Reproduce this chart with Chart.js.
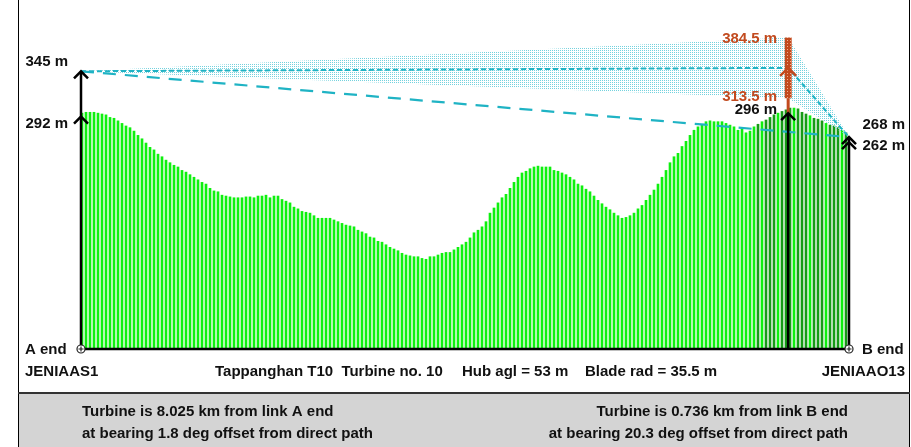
<!DOCTYPE html>
<html>
<head>
<meta charset="utf-8">
<script src="https://cdn.jsdelivr.net/npm/chart.js@4.4.1/dist/chart.umd.min.js"></script>
<style>
  html, body { margin: 0; padding: 0; background: #ffffff; }
  #wrap { position: relative; width: 911px; height: 447px; }
  canvas { display: block; }
</style>
</head>
<body>
<div id="wrap"><canvas id="profile" width="911" height="447"></canvas></div>
<script>
// Ground heights (m above sea level) sampled along the link, A end -> B end
const terrainHeights = [
  296, 297, 297, 297, 296, 295, 294, 291, 290, 287,
  284, 281, 279, 275, 270, 266, 261, 256, 253, 248,
  245, 241, 238, 235, 233, 229, 227, 224, 221, 218,
  215, 213, 208, 205, 204, 200, 199, 198, 197, 197,
  197, 198, 198, 197, 199, 199, 200, 197, 199, 199,
  195, 193, 191, 186, 184, 181, 180, 179, 176, 173,
  173, 173, 173, 171, 169, 167, 165, 164, 163, 159,
  157, 155, 151, 150, 146, 145, 142, 139, 137, 135,
  132, 130, 129, 128, 128, 126, 125, 128, 128, 130,
  132, 133, 133, 136, 139, 142, 145, 150, 156, 159,
  163, 169, 179, 185, 191, 197, 201, 208, 215, 221,
  226, 228, 231, 233, 234, 233, 233, 233, 229, 228,
  226, 224, 221, 218, 213, 211, 207, 204, 199, 194,
  190, 186, 183, 179, 176, 173, 174, 176, 179, 184,
  188, 194, 200, 206, 213, 221, 229, 238, 245, 249,
  257, 263, 270, 276, 280, 282, 286, 287, 286, 286,
  286, 284, 282, 280, 276, 279, 273, 275, 280, 283,
  286, 288, 291, 294, 296, 298, 300, 302, 302, 301,
  297, 295, 293, 290, 289, 287, 284, 282, 281, 279,
  276, 273
];
const sampleLabels = terrainHeights.map((_, i) => String(i));

// Link geometry: distance along the path (km) of A end, turbine, B end
const pathKm = [0, 8.021, 8.711];
// A end: ground height, antenna height (m)
const aEndLevels = [292, 345];
// B end: ground height, antenna height (m)
const bEndLevels = [262, 268];
// Turbine: ground, lower blade tip, hub, upper blade tip (m)
const turbineLevels = [296, 313.5, 349, 384.5];

const linkInfo = ['JENIAAS1', 'JENIAAO13'];
const turbineTitle = ['Tappanghan T10  Turbine no. 10', 'Hub agl = 53 m', 'Blade rad = 35.5 m'];
const footerLeft = ['Turbine is 8.025 km from link A end', 'at bearing 1.8 deg offset from direct path'];
const footerRight = ['Turbine is 0.736 km from link B end', 'at bearing 20.3 deg offset from direct path'];

const CYAN = '#1fb3c4';
const BROWN = '#c24a1e';
const FONT = 'bold 15px "Liberation Sans", Arial, sans-serif';

function dotPattern(color, size) {
  const c = document.createElement('canvas');
  c.width = size; c.height = size;
  const g = c.getContext('2d');
  g.fillStyle = color;
  g.fillRect(0, 0, 1, 1);
  return g.createPattern(c, 'repeat');
}
function hatchPattern() {
  const c = document.createElement('canvas');
  c.width = 3; c.height = 3;
  const g = c.getContext('2d');
  g.fillStyle = BROWN;
  g.fillRect(0, 0, 3, 3);
  g.fillStyle = '#f0b090';
  g.fillRect(1, 1, 1, 1);
  return g.createPattern(c, 'repeat');
}

const barColors = terrainHeights.map((_, i) => (i >= 169 && i % 4 !== 2) ? '#169c16' : '#0ef00e');

const sweptTop = [
  { x: pathKm[0], y: aEndLevels[1] },
  { x: pathKm[1], y: turbineLevels[3] },
  { x: pathKm[2], y: bEndLevels[1] }
];
const sweptBottom = [
  { x: pathKm[0], y: aEndLevels[1] },
  { x: pathKm[1], y: turbineLevels[1] },
  { x: pathKm[2], y: bEndLevels[1] }
];
const hubPath = [
  { x: pathKm[0], y: aEndLevels[1] },
  { x: pathKm[1], y: turbineLevels[2] },
  { x: pathKm[2], y: bEndLevels[1] }
];
const directPath = [
  { x: pathKm[0], y: aEndLevels[1] },
  { x: pathKm[2], y: bEndLevels[1] }
];

function chevron(ctx, x, y, color, hw, h) {
  ctx.save();
  ctx.strokeStyle = color;
  ctx.lineWidth = 2.5;
  ctx.lineJoin = 'miter';
  ctx.beginPath();
  ctx.moveTo(x - hw, y + h);
  ctx.lineTo(x, y);
  ctx.lineTo(x + hw, y + h);
  ctx.stroke();
  ctx.restore();
}
function endMarker(ctx, x, y) {
  ctx.save();
  ctx.fillStyle = '#ffffff';
  ctx.strokeStyle = '#222';
  ctx.lineWidth = 1.2;
  ctx.beginPath();
  ctx.arc(x, y, 4, 0, Math.PI * 2);
  ctx.fill();
  ctx.stroke();
  ctx.beginPath();
  ctx.moveTo(x - 2.5, y); ctx.lineTo(x + 2.5, y);
  ctx.moveTo(x, y - 2.5); ctx.lineTo(x, y + 2.5);
  ctx.stroke();
  ctx.restore();
}

const framePlugin = {
  id: 'frame',
  beforeDraw(chart) {
    const ctx = chart.ctx;
    ctx.save();
    ctx.fillStyle = '#ffffff';
    ctx.fillRect(0, 0, chart.width, chart.height);
    ctx.fillStyle = '#d4d4d4';
    ctx.fillRect(19, 393, 890, 54);
    ctx.restore();
  },
  afterDatasetsDraw(chart) {
    const ctx = chart.ctx;
    const xs = chart.scales.xd, ys = chart.scales.y;
    const area = chart.chartArea;
    const base = area.bottom;
    const xa = xs.getPixelForValue(pathKm[0]);
    const xt = xs.getPixelForValue(pathKm[1]);
    const xb = xs.getPixelForValue(pathKm[2]);

    // turbine: mast to blade tips
    ctx.save();
    ctx.fillStyle = BROWN;
    ctx.fillRect(xt - 1.5, ys.getPixelForValue(turbineLevels[1]), 3,
      ys.getPixelForValue(turbineLevels[0]) - ys.getPixelForValue(turbineLevels[1]));
    ctx.fillStyle = hatchPattern();
    const yTop = ys.getPixelForValue(turbineLevels[3]);
    ctx.fillRect(xt - 3.5, yTop, 7, ys.getPixelForValue(turbineLevels[1]) - yTop);
    ctx.restore();
    chevron(ctx, xt, ys.getPixelForValue(turbineLevels[2]), BROWN, 8, 8);

    // vertical markers: A end, turbine ground, B end
    ctx.save();
    ctx.strokeStyle = '#000';
    ctx.lineWidth = 2.5;
    ctx.beginPath();
    ctx.moveTo(xa, base); ctx.lineTo(xa, ys.getPixelForValue(aEndLevels[1]));
    ctx.moveTo(xt, base); ctx.lineTo(xt, ys.getPixelForValue(turbineLevels[0]));
    ctx.moveTo(xb, base); ctx.lineTo(xb, ys.getPixelForValue(bEndLevels[1]));
    ctx.stroke();
    // baseline
    ctx.beginPath();
    ctx.moveTo(xa, base); ctx.lineTo(xb, base);
    ctx.stroke();
    ctx.restore();
    chevron(ctx, xa, ys.getPixelForValue(aEndLevels[0]), '#000', 7, 7);
    chevron(ctx, xa, ys.getPixelForValue(aEndLevels[1]), '#000', 7, 7);
    chevron(ctx, xt, ys.getPixelForValue(turbineLevels[0]), '#000', 7, 7);
    chevron(ctx, xb, ys.getPixelForValue(bEndLevels[0]), '#000', 7, 7);
    chevron(ctx, xb, ys.getPixelForValue(bEndLevels[1]), '#000', 7, 7);
    endMarker(ctx, xa, base);
    endMarker(ctx, xb, base);
  },
  afterDraw(chart) {
    const ctx = chart.ctx;
    const ys = chart.scales.y;
    const xs = chart.scales.xd;
    const xt = xs.getPixelForValue(pathKm[1]);
    const txt = (s, x, y, align, color) => {
      ctx.fillStyle = color || '#111';
      ctx.textAlign = align;
      ctx.fillText(s, x, y);
    };
    ctx.save();
    ctx.font = FONT;
    ctx.textBaseline = 'middle';
    // level labels
    txt(aEndLevels[1] + ' m', 68, ys.getPixelForValue(aEndLevels[1]) - 9, 'right');
    txt(aEndLevels[0] + ' m', 68, ys.getPixelForValue(aEndLevels[0]) + 7, 'right');
    txt(turbineLevels[3] + ' m', xt - 11, ys.getPixelForValue(turbineLevels[3]) + 1, 'right', BROWN);
    txt(turbineLevels[1] + ' m', xt - 11, ys.getPixelForValue(turbineLevels[1]) - 1, 'right', BROWN);
    txt(turbineLevels[0] + ' m', xt - 11, ys.getPixelForValue(turbineLevels[0]) - 3, 'right');
    txt(bEndLevels[1] + ' m', 905, ys.getPixelForValue(bEndLevels[1]) - 12, 'right');
    txt(bEndLevels[0] + ' m', 905, ys.getPixelForValue(bEndLevels[0]) + 4, 'right');
    // link ends
    txt('A end', 25, 350, 'left');
    txt('B end', 862, 350, 'left');
    txt(linkInfo[0], 25, 372, 'left');
    txt(linkInfo[1], 905, 372, 'right');
    txt(turbineTitle[0], 215, 372, 'left');
    txt(turbineTitle[1], 462, 372, 'left');
    txt(turbineTitle[2], 585, 372, 'left');
    // footer
    txt(footerLeft[0], 82, 412, 'left');
    txt(footerLeft[1], 82, 434, 'left');
    txt(footerRight[0], 848, 412, 'right');
    txt(footerRight[1], 848, 434, 'right');
    // frame lines
    ctx.strokeStyle = '#000';
    ctx.lineWidth = 1;
    ctx.beginPath();
    ctx.moveTo(18.5, 0); ctx.lineTo(18.5, 447);
    ctx.moveTo(909.5, 0); ctx.lineTo(909.5, 447);
    ctx.stroke();
    ctx.strokeStyle = '#333';
    ctx.lineWidth = 2;
    ctx.beginPath();
    ctx.moveTo(18, 393); ctx.lineTo(910, 393);
    ctx.stroke();
    ctx.restore();
  }
};

new Chart(document.getElementById('profile'), {
  type: 'bar',
  data: {
    labels: sampleLabels,
    datasets: [
      {
        type: 'bar',
        data: terrainHeights,
        backgroundColor: barColors,
        barThickness: 2,
        xAxisID: 'x',
        order: 5
      },
      {
        type: 'line',
        data: sweptTop,
        xAxisID: 'xd',
        borderWidth: 0,
        pointRadius: 0,
        fill: false,
        order: 4
      },
      {
        type: 'line',
        data: sweptBottom,
        xAxisID: 'xd',
        borderWidth: 0,
        pointRadius: 0,
        fill: '-1',
        backgroundColor: dotPattern('#74d2de', 2),
        order: 4
      },
      {
        type: 'line',
        data: hubPath,
        xAxisID: 'xd',
        borderColor: CYAN,
        borderWidth: 2,
        borderDash: [5, 3],
        pointRadius: 0,
        fill: false,
        order: 1
      },
      {
        type: 'line',
        data: directPath,
        xAxisID: 'xd',
        borderColor: CYAN,
        borderWidth: 2.2,
        borderDash: [13, 9],
        pointRadius: 0,
        fill: false,
        order: 1
      }
    ]
  },
  options: {
    responsive: false,
    animation: false,
    events: [],
    layout: { padding: { left: 81, right: 62, top: 20, bottom: 98 } },
    plugins: { legend: { display: false }, tooltip: { enabled: false }, title: { display: false } },
    scales: {
      x: { type: 'category', display: false, offset: true },
      xd: { type: 'linear', display: false, offset: false, min: 0, max: pathKm[2] },
      y: { type: 'linear', display: false, min: 20, max: 405 }
    }
  },
  plugins: [framePlugin]
});
</script>
</body>
</html>
